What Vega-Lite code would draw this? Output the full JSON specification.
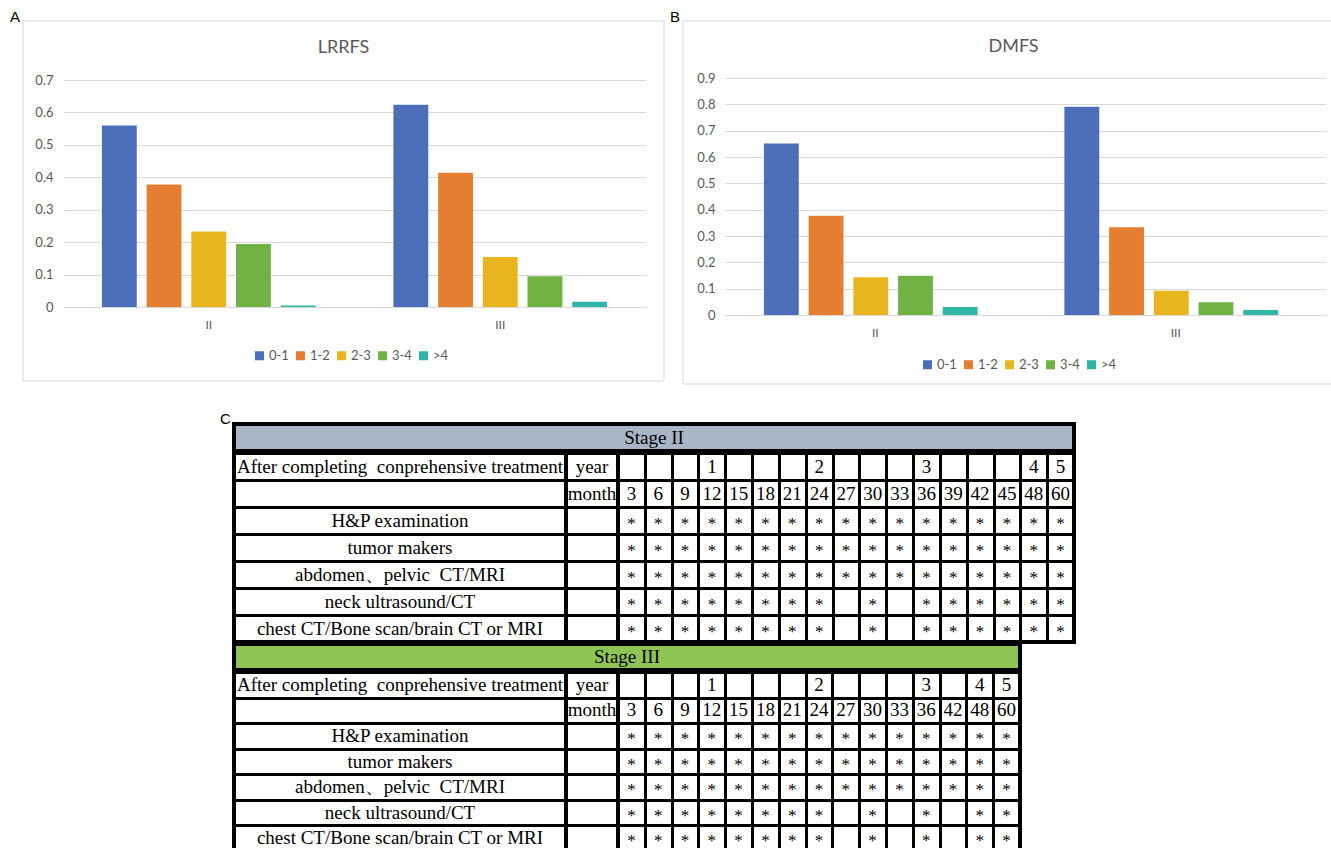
{
  "$schema": "https://vega.github.io/schema/vega-lite/v6.json",
  "padding": {"left": 9, "top": 10, "right": 0, "bottom": 0},
  "config": {"view": {"stroke": null}, "font": "Lato"},
  "datasets": {
    "lrrfs": [
      {"stage": "II", "interval": "0-1", "value": 0.56},
      {"stage": "II", "interval": "1-2", "value": 0.378},
      {"stage": "II", "interval": "2-3", "value": 0.233},
      {"stage": "II", "interval": "3-4", "value": 0.194},
      {"stage": "II", "interval": ">4", "value": 0.005},
      {"stage": "III", "interval": "0-1", "value": 0.624},
      {"stage": "III", "interval": "1-2", "value": 0.414},
      {"stage": "III", "interval": "2-3", "value": 0.154},
      {"stage": "III", "interval": "3-4", "value": 0.095},
      {"stage": "III", "interval": ">4", "value": 0.016}
    ],
    "dmfs": [
      {"stage": "II", "interval": "0-1", "value": 0.651},
      {"stage": "II", "interval": "1-2", "value": 0.377},
      {"stage": "II", "interval": "2-3", "value": 0.143},
      {"stage": "II", "interval": "3-4", "value": 0.149},
      {"stage": "II", "interval": ">4", "value": 0.03},
      {"stage": "III", "interval": "0-1", "value": 0.791},
      {"stage": "III", "interval": "1-2", "value": 0.333},
      {"stage": "III", "interval": "2-3", "value": 0.092},
      {"stage": "III", "interval": "3-4", "value": 0.048},
      {"stage": "III", "interval": ">4", "value": 0.019}
    ],
    "labels": [
      {"r": "year", "t": "After completing\u00a0 conprehensive treatment"},
      {"r": "hp", "t": "H&P examination"},
      {"r": "tumor", "t": "tumor makers"},
      {"r": "abd", "t": "abdomen、pelvic\u00a0 CT/MRI"},
      {"r": "neck", "t": "neck ultrasound/CT"},
      {"r": "chest", "t": "chest CT/Bone scan/brain CT or MRI"}
    ],
    "units": [
      {"r": "year", "t": "year"},
      {"r": "month", "t": "month"}
    ],
    "numII": [
      {"r": "year", "c": ["12", "24", "36", "48", "60"], "t": ["1", "2", "3", "4", "5"]},
      {"r": "month", "c": ["3", "6", "9", "12", "15", "18", "21", "24", "27", "30", "33", "36", "39", "42", "45", "48", "60"], "t": ["3", "6", "9", "12", "15", "18", "21", "24", "27", "30", "33", "36", "39", "42", "45", "48", "60"]}
    ],
    "starII": [
      {"r": "hp", "t": "*", "c": ["3", "6", "9", "12", "15", "18", "21", "24", "27", "30", "33", "36", "39", "42", "45", "48", "60"]},
      {"r": "tumor", "t": "*", "c": ["3", "6", "9", "12", "15", "18", "21", "24", "27", "30", "33", "36", "39", "42", "45", "48", "60"]},
      {"r": "abd", "t": "*", "c": ["3", "6", "9", "12", "15", "18", "21", "24", "27", "30", "33", "36", "39", "42", "45", "48", "60"]},
      {"r": "neck", "t": "*", "c": ["3", "6", "9", "12", "15", "18", "21", "24", "30", "36", "39", "42", "45", "48", "60"]},
      {"r": "chest", "t": "*", "c": ["3", "6", "9", "12", "15", "18", "21", "24", "30", "36", "39", "42", "45", "48", "60"]}
    ],
    "numIII": [
      {"r": "year", "c": ["12", "24", "36", "48", "60"], "t": ["1", "2", "3", "4", "5"]},
      {"r": "month", "c": ["3", "6", "9", "12", "15", "18", "21", "24", "27", "30", "33", "36", "42", "48", "60"], "t": ["3", "6", "9", "12", "15", "18", "21", "24", "27", "30", "33", "36", "42", "48", "60"]}
    ],
    "starIII": [
      {"r": "hp", "t": "*", "c": ["3", "6", "9", "12", "15", "18", "21", "24", "27", "30", "33", "36", "42", "48", "60"]},
      {"r": "tumor", "t": "*", "c": ["3", "6", "9", "12", "15", "18", "21", "24", "27", "30", "33", "36", "42", "48", "60"]},
      {"r": "abd", "t": "*", "c": ["3", "6", "9", "12", "15", "18", "21", "24", "27", "30", "33", "36", "42", "48", "60"]},
      {"r": "neck", "t": "*", "c": ["3", "6", "9", "12", "15", "18", "21", "24", "30", "36", "48", "60"]},
      {"r": "chest", "t": "*", "c": ["3", "6", "9", "12", "15", "18", "21", "24", "30", "36", "48", "60"]}
    ]
  },
  "spacing": 27,
  "vconcat": [
    {
      "spacing": 4,
      "resolve": {"scale": {"color": "independent"}, "legend": {"color": "independent"}},
      "hconcat": [
        {
          "width": 583,
          "height": 229,
          "layer": [
            {
              "data": {"name": "lrrfs"},
              "mark": {"type": "bar"},
              "encoding": {
                "x": {"field": "stage", "type": "nominal", "sort": ["II", "III"], "scale": {"paddingInner": 0, "paddingOuter": 0}, "axis": {"orient": "bottom", "title": null, "labelAngle": 0, "labelFontSize": 12, "labelColor": "#595959", "labelFont": "Lato", "labelPadding": 12, "ticks": false, "domain": true, "domainColor": "#D9D9D9"}},
                "xOffset": {"field": "interval", "type": "nominal", "sort": ["0-1", "1-2", "2-3", "3-4", ">4"], "scale": {"paddingInner": 0.22, "paddingOuter": 0.87}},
                "y": {"field": "value", "type": "quantitative", "scale": {"domain": [0, 0.7062], "nice": false}, "axis": {"orient": "left", "title": null, "values": [0, 0.1, 0.2, 0.3, 0.4, 0.5, 0.6, 0.7], "format": ".1~f", "grid": true, "gridColor": "#D9D9D9", "domain": false, "ticks": false, "labelFontSize": 13, "labelColor": "#595959", "labelFont": "Lato", "labelPadding": 10}},
                "color": {"field": "interval", "type": "nominal", "scale": {"domain": ["0-1", "1-2", "2-3", "3-4", ">4"], "range": ["#4A6FB8", "#E57E31", "#E8B51E", "#70B244", "#2FB5A6"]}, "legend": {"orient": "none", "legendX": 190, "legendY": 271, "direction": "horizontal", "title": null, "symbolType": "square", "symbolSize": 81, "symbolStrokeWidth": 0, "labelFontSize": 13, "labelColor": "#595959", "labelFont": "Lato", "columnPadding": 5, "labelOffset": 3}}
              }
            },
            {
              "data": {"values": [{}]},
              "encoding": {
                "x": {"datum": 0, "type": "quantitative", "scale": {"domain": [0.0624, 0.9719], "nice": false, "zero": false}, "axis": null},
                "y": {"datum": 0, "type": "quantitative", "scale": {"domain": [0.2055, 0.8416], "nice": false, "zero": false}, "axis": null}
              },
              "layer": [
                {
                  "mark": {"type": "rect", "filled": false, "stroke": "#D9D9D9", "strokeWidth": 1},
                  "encoding": {"x2": {"datum": 1}, "y2": {"datum": 1}}
                },
                {
                  "mark": {"type": "text", "text": "A", "fontSize": 15, "font": "Liberation Sans", "align": "center", "baseline": "alphabetic", "color": "black"},
                  "encoding": {
                    "x": {"datum": -0.0125, "type": "quantitative"},
                    "y": {"datum": 0.9971, "type": "quantitative"}
                  }
                },
                {
                  "mark": {"type": "text", "text": "LRRFS", "fontSize": 18, "font": "Lato", "align": "center", "baseline": "alphabetic", "color": "#595959"},
                  "encoding": {
                    "x": {"datum": 0.5, "type": "quantitative"},
                    "y": {"datum": 0.9111, "type": "quantitative"}
                  }
                }
              ]
            }
          ],
          "resolve": {"scale": {"x": "independent", "y": "independent"}}
        },
        {
          "width": 601,
          "height": 237,
          "layer": [
            {
              "data": {"name": "dmfs"},
              "mark": {"type": "bar"},
              "encoding": {
                "x": {"field": "stage", "type": "nominal", "sort": ["II", "III"], "scale": {"paddingInner": 0, "paddingOuter": 0}, "axis": {"orient": "bottom", "title": null, "labelAngle": 0, "labelFontSize": 12, "labelColor": "#595959", "labelFont": "Lato", "labelPadding": 12, "ticks": false, "domain": true, "domainColor": "#D9D9D9"}},
                "xOffset": {"field": "interval", "type": "nominal", "sort": ["0-1", "1-2", "2-3", "3-4", ">4"], "scale": {"paddingInner": 0.22, "paddingOuter": 0.87}},
                "y": {"field": "value", "type": "quantitative", "scale": {"domain": [0, 0.9], "nice": false}, "axis": {"orient": "left", "title": null, "values": [0, 0.1, 0.2, 0.3, 0.4, 0.5, 0.6, 0.7, 0.8, 0.9], "format": ".1~f", "grid": true, "gridColor": "#D9D9D9", "domain": false, "ticks": false, "labelFontSize": 13, "labelColor": "#595959", "labelFont": "Lato", "labelPadding": 10}},
                "color": {"field": "interval", "type": "nominal", "scale": {"domain": ["0-1", "1-2", "2-3", "3-4", ">4"], "range": ["#4A6FB8", "#E57E31", "#E8B51E", "#70B244", "#2FB5A6"]}, "legend": {"orient": "none", "legendX": 196, "legendY": 280, "direction": "horizontal", "title": null, "symbolType": "square", "symbolSize": 81, "symbolStrokeWidth": 0, "labelFontSize": 13, "labelColor": "#595959", "labelFont": "Lato", "columnPadding": 5, "labelOffset": 3}}
              }
            },
            {
              "data": {"values": [{}]},
              "encoding": {
                "x": {"datum": 0, "type": "quantitative", "scale": {"domain": [0.06354, 0.9727], "nice": false, "zero": false}, "axis": null},
                "y": {"datum": 0, "type": "quantitative", "scale": {"domain": [0.1901, 0.843], "nice": false, "zero": false}, "axis": null}
              },
              "layer": [
                {
                  "mark": {"type": "rect", "filled": false, "stroke": "#D9D9D9", "strokeWidth": 1},
                  "encoding": {"x2": {"datum": 1}, "y2": {"datum": 1}}
                },
                {
                  "mark": {"type": "text", "text": "B", "fontSize": 15, "font": "Liberation Sans", "align": "center", "baseline": "alphabetic", "color": "black"},
                  "encoding": {
                    "x": {"datum": -0.0121, "type": "quantitative"},
                    "y": {"datum": 0.9972, "type": "quantitative"}
                  }
                },
                {
                  "mark": {"type": "text", "text": "DMFS", "fontSize": 18, "font": "Lato", "align": "center", "baseline": "alphabetic", "color": "#595959"},
                  "encoding": {
                    "x": {"datum": 0.5, "type": "quantitative"},
                    "y": {"datum": 0.9146, "type": "quantitative"}
                  }
                }
              ]
            }
          ],
          "resolve": {"scale": {"x": "independent", "y": "independent"}}
        }
      ]
    },
    {
      "spacing": 0,
      "hconcat": [
        {
          "width": 157,
          "height": 1,
          "data": {"values": [{}]},
          "mark": {"type": "point", "opacity": 0},
          "encoding": {}
        },
        {
          "spacing": -4,
          "title": {"text": "C", "anchor": "start", "dx": -12, "offset": -17, "baseline": "alphabetic", "fontSize": 15, "font": "Liberation Sans", "fontWeight": "normal", "color": "black"},
          "vconcat": [
            {
              "width": 840,
              "height": 27,
              "view": {"fill": "#A9B4C6", "stroke": "black", "strokeWidth": 4},
              "data": {"values": [{"t": "Stage II"}]},
              "mark": {"type": "text", "font": "Liberation Serif", "fontSize": 19, "color": "black"},
              "encoding": {"text": {"field": "t"}}
            },
            {
              "spacing": 0,
              "bounds": "flush",
              "hconcat": [
                {
                  "width": 332,
                  "height": 189,
                  "view": {"fill": "white", "stroke": "black", "strokeWidth": 4},
                  "data": {"name": "labels"},
                  "mark": {"type": "text", "font": "Liberation Serif", "fontSize": 19, "color": "black"},
                  "encoding": {
                    "y": {"field": "r", "type": "nominal", "scale": {"domain": ["year", "month", "hp", "tumor", "abd", "neck", "chest"], "paddingInner": 0, "paddingOuter": 0}, "axis": {"title": null, "labels": false, "ticks": false, "domain": false, "grid": true, "gridColor": "black", "gridWidth": 3, "tickBand": "extent"}},
                    "text": {"field": "t"}
                  }
                },
                {
                  "width": 52,
                  "height": 189,
                  "view": {"fill": "white", "stroke": "black", "strokeWidth": 4},
                  "data": {"name": "units"},
                  "mark": {"type": "text", "font": "Liberation Serif", "fontSize": 19, "color": "black"},
                  "encoding": {
                    "y": {"field": "r", "type": "nominal", "scale": {"domain": ["year", "month", "hp", "tumor", "abd", "neck", "chest"], "paddingInner": 0, "paddingOuter": 0}, "axis": {"title": null, "labels": false, "ticks": false, "domain": false, "grid": true, "gridColor": "black", "gridWidth": 3, "tickBand": "extent"}},
                    "text": {"field": "t"}
                  }
                },
                {
                  "width": 456,
                  "height": 189,
                  "view": {"fill": "white", "stroke": "black", "strokeWidth": 4},
                  "encoding": {
                    "x": {"field": "c", "type": "nominal", "scale": {"domain": ["3", "6", "9", "12", "15", "18", "21", "24", "27", "30", "33", "36", "39", "42", "45", "48", "60"], "paddingInner": 0, "paddingOuter": 0}, "axis": {"title": null, "labels": false, "ticks": false, "domain": false, "grid": true, "gridColor": "black", "gridWidth": 3, "tickBand": "extent"}},
                    "y": {"field": "r", "type": "nominal", "scale": {"domain": ["year", "month", "hp", "tumor", "abd", "neck", "chest"], "paddingInner": 0, "paddingOuter": 0}, "axis": {"title": null, "labels": false, "ticks": false, "domain": false, "grid": true, "gridColor": "black", "gridWidth": 3, "tickBand": "extent"}},
                    "text": {"field": "t"}
                  },
                  "layer": [
                    {
                      "data": {"name": "numII"},
                      "transform": [{"flatten": ["c", "t"]}],
                      "mark": {"type": "text", "font": "Liberation Serif", "fontSize": 19, "color": "black"}
                    },
                    {
                      "data": {"name": "starII"},
                      "transform": [{"flatten": ["c"]}],
                      "mark": {"type": "text", "font": "Liberation Serif", "fontSize": 17, "color": "black", "dy": 3}
                    }
                  ]
                }
              ]
            },
            {
              "width": 786,
              "height": 26,
              "view": {"fill": "#8DC454", "stroke": "black", "strokeWidth": 4},
              "data": {"values": [{"t": "Stage III"}]},
              "mark": {"type": "text", "font": "Liberation Serif", "fontSize": 19, "color": "black"},
              "encoding": {"text": {"field": "t"}}
            },
            {
              "spacing": 0,
              "bounds": "flush",
              "hconcat": [
                {
                  "width": 332,
                  "height": 179,
                  "view": {"fill": "white", "stroke": "black", "strokeWidth": 4},
                  "data": {"name": "labels"},
                  "mark": {"type": "text", "font": "Liberation Serif", "fontSize": 19, "color": "black"},
                  "encoding": {
                    "y": {"field": "r", "type": "nominal", "scale": {"domain": ["year", "month", "hp", "tumor", "abd", "neck", "chest"], "paddingInner": 0, "paddingOuter": 0}, "axis": {"title": null, "labels": false, "ticks": false, "domain": false, "grid": true, "gridColor": "black", "gridWidth": 3, "tickBand": "extent"}},
                    "text": {"field": "t"}
                  }
                },
                {
                  "width": 52,
                  "height": 179,
                  "view": {"fill": "white", "stroke": "black", "strokeWidth": 4},
                  "data": {"name": "units"},
                  "mark": {"type": "text", "font": "Liberation Serif", "fontSize": 19, "color": "black"},
                  "encoding": {
                    "y": {"field": "r", "type": "nominal", "scale": {"domain": ["year", "month", "hp", "tumor", "abd", "neck", "chest"], "paddingInner": 0, "paddingOuter": 0}, "axis": {"title": null, "labels": false, "ticks": false, "domain": false, "grid": true, "gridColor": "black", "gridWidth": 3, "tickBand": "extent"}},
                    "text": {"field": "t"}
                  }
                },
                {
                  "width": 402,
                  "height": 179,
                  "view": {"fill": "white", "stroke": "black", "strokeWidth": 4},
                  "encoding": {
                    "x": {"field": "c", "type": "nominal", "scale": {"domain": ["3", "6", "9", "12", "15", "18", "21", "24", "27", "30", "33", "36", "42", "48", "60"], "paddingInner": 0, "paddingOuter": 0}, "axis": {"title": null, "labels": false, "ticks": false, "domain": false, "grid": true, "gridColor": "black", "gridWidth": 3, "tickBand": "extent"}},
                    "y": {"field": "r", "type": "nominal", "scale": {"domain": ["year", "month", "hp", "tumor", "abd", "neck", "chest"], "paddingInner": 0, "paddingOuter": 0}, "axis": {"title": null, "labels": false, "ticks": false, "domain": false, "grid": true, "gridColor": "black", "gridWidth": 3, "tickBand": "extent"}},
                    "text": {"field": "t"}
                  },
                  "layer": [
                    {
                      "data": {"name": "numIII"},
                      "transform": [{"flatten": ["c", "t"]}],
                      "mark": {"type": "text", "font": "Liberation Serif", "fontSize": 19, "color": "black"}
                    },
                    {
                      "data": {"name": "starIII"},
                      "transform": [{"flatten": ["c"]}],
                      "mark": {"type": "text", "font": "Liberation Serif", "fontSize": 17, "color": "black", "dy": 3}
                    }
                  ]
                }
              ]
            }
          ]
        }
      ]
    }
  ]
}
